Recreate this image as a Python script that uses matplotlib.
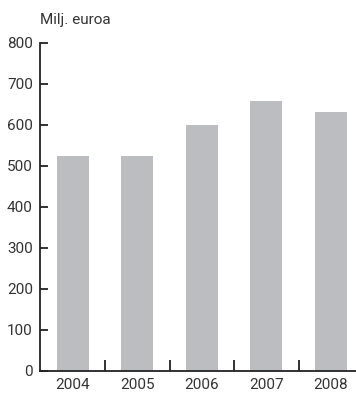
import numpy as np
import matplotlib.pyplot as plt

years = ['2004', '2005', '2006', '2007', '2008']
values = [525, 523, 600, 659, 632]
yticks = [0, 100, 200, 300, 400, 500, 600, 700, 800]

plt.rcParams['font.family'] = ['Roboto', 'DejaVu Sans']

fig = plt.figure(figsize=(3.56, 3.93), dpi=100)
ax = fig.add_axes([0.112, 0.056, 0.888, 0.835])

x = np.arange(len(years))
ax.bar(x, values, width=0.5, color='#bcbdc0', zorder=2)

ax.set_xlim(-0.51, 4.39)
ax.set_ylim(0, 800)
ax.set_yticks(yticks)
ax.set_xticks(x)
ax.set_xticklabels(years)
ax.set_xticks(x[:-1] + 0.5, minor=True)

for s in ['top', 'right']:
    ax.spines[s].set_visible(False)
for s in ['left', 'bottom']:
    ax.spines[s].set_linewidth(1.3)
    ax.spines[s].set_color('#222222')

ax.tick_params(axis='y', direction='in', length=6, width=1.3, color='#222222',
               labelsize=11, labelcolor='#333333', pad=5)
ax.tick_params(axis='x', which='major', length=0, labelsize=11,
               labelcolor='#333333', pad=5)
ax.tick_params(axis='x', which='minor', direction='in', length=8, width=1.3,
               color='#222222')

fig.text(0.112, 0.948, 'Milj. euroa', fontsize=11, color='#333333',
         ha='left', va='center')

fig.savefig('out.png', dpi=100)
